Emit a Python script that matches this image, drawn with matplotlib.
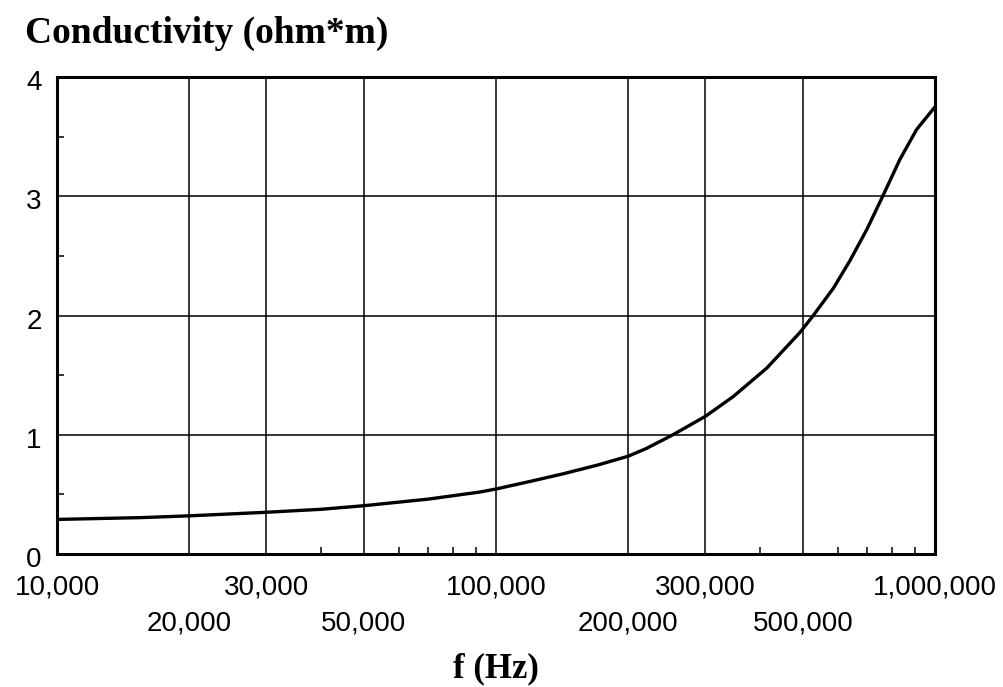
import matplotlib.pyplot as plt
from matplotlib.ticker import FixedLocator, NullFormatter
from matplotlib.transforms import ScaledTranslation

# Conductivity vs frequency
freq_hz = [10000, 15500, 20000, 30000, 40000, 50000, 70000, 92000, 100000,
           120000, 142000, 170000, 200000, 220000, 253000, 300000, 347000,
           414000, 493000, 528000, 587000, 640000, 699000, 760000, 832000,
           908000, 1000000]
conductivity = [0.29, 0.305, 0.32, 0.35, 0.375, 0.405, 0.46, 0.52, 0.545,
                0.61, 0.672, 0.745, 0.82, 0.885, 1.0, 1.155, 1.32,
                1.56, 1.86, 2.0, 2.23, 2.46, 2.72, 3.0, 3.31,
                3.56, 3.75]

x_ticks = [10000, 20000, 30000, 50000, 100000, 200000, 300000, 500000, 1000000]
x_labels = ['10,000', '20,000', '30,000', '50,000', '100,000', '200,000',
            '300,000', '500,000', '1,000,000']
x_minor = [40000, 60000, 70000, 80000, 90000,
           400000, 600000, 700000, 800000, 900000]
y_ticks = [0, 1, 2, 3, 4]
y_minor = [0.5, 1.5, 2.5, 3.5]

fig = plt.figure(figsize=(10.04, 6.87), dpi=100)
ax = fig.add_axes([0.0568, 0.1936, 0.8745, 0.6943])

ax.plot(freq_hz, conductivity, color='black', linewidth=2.4,
        solid_capstyle='round', solid_joinstyle='round')

ax.set_xscale('log')
ax.set_xlim(10000, 1000000)
ax.set_ylim(0, 4)

ax.xaxis.set_major_locator(FixedLocator(x_ticks))
ax.xaxis.set_minor_locator(FixedLocator(x_minor))
ax.xaxis.set_minor_formatter(NullFormatter())
ax.set_xticklabels(x_labels)
ax.set_yticks(y_ticks)
ax.set_yticks(y_minor, minor=True)

ax.grid(True, which='major', color='black', linewidth=1.1)
for s in ax.spines.values():
    s.set_linewidth(2.2)

ax.tick_params(which='major', length=0, labelsize=20)
ax.tick_params(which='minor', direction='in', length=5, width=1.1, color='black')
ax.tick_params(axis='y', which='major', pad=11)

# alternate the x labels across two rows
for i, tick in enumerate(ax.xaxis.get_major_ticks()):
    tick.set_pad(14.5 if i % 2 == 0 else 41)

# y labels sit a little below their gridlines
shift = ScaledTranslation(0, -3 / 100, fig.dpi_scale_trans)
for lbl in ax.get_yticklabels():
    lbl.set_transform(lbl.get_transform() + shift)
for lbl in ax.get_xticklabels() + ax.get_yticklabels():
    lbl.set_fontfamily('Liberation Sans')

fig.text(25 / 1004, 0.937, 'Conductivity (ohm*m)', family='Liberation Serif',
         weight='bold', size=27, va='baseline', ha='left')
fig.text(0.494, 0.0146, 'f (Hz)', family='Liberation Serif',
         weight='bold', size=25, va='baseline', ha='center')

fig.savefig('out.png', dpi=100)
